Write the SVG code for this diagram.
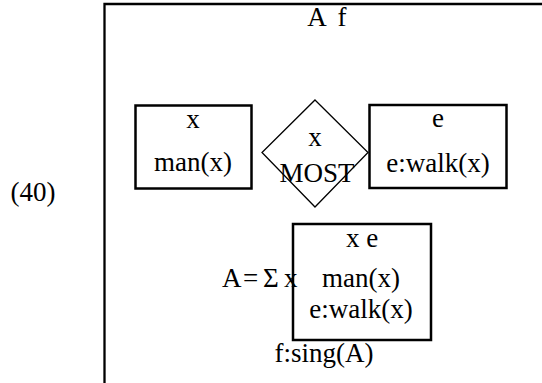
<svg xmlns="http://www.w3.org/2000/svg" width="542" height="383" viewBox="0 0 542 383">
<style>
text{font-family:"Liberation Serif","DejaVu Serif",serif;font-size:27px;fill:#000;text-anchor:middle}
.box{fill:none;stroke:#000;stroke-width:2.5}
.dia{fill:none;stroke:#000;stroke-width:1.3}
.frame{fill:none;stroke:#000;stroke-width:2.3}
</style>
<g id="label40"><text x="33" y="201">(40)</text></g>
<g id="outer">
<path class="frame" d="M104.5,383 V4 H542"/>
<text x="317" y="26">A</text>
<text x="342" y="26">f</text>
</g>
<g id="restrictor">
<rect class="box" x="135.5" y="105.5" width="116" height="83"/>
<text x="193" y="128">x</text>
<text x="193" y="171">man(x)</text>
</g>
<g id="most">
<polygon class="dia" points="315,100 368,152.5 315,207 262,152.5"/>
<text x="315" y="146">x</text>
<text x="317" y="182">MOST</text>
</g>
<g id="scope">
<rect class="box" x="369.5" y="105" width="137" height="83"/>
<text x="438" y="127">e</text>
<text x="438" y="172">e:walk(x)</text>
</g>
<g id="sigma">
<rect class="box" x="293" y="224" width="138" height="116"/>
<text x="362" y="247">x e</text>
<text x="361" y="287">man(x)</text>
<text x="361" y="318">e:walk(x)</text>
<text y="287" style="text-anchor:start"><tspan x="222">A</tspan><tspan x="243">=</tspan><tspan x="263">Σ</tspan><tspan x="284">x</tspan></text>
<text x="324" y="362">f:sing(A)</text>
</g>
<g id="connectors"/>
</svg>
